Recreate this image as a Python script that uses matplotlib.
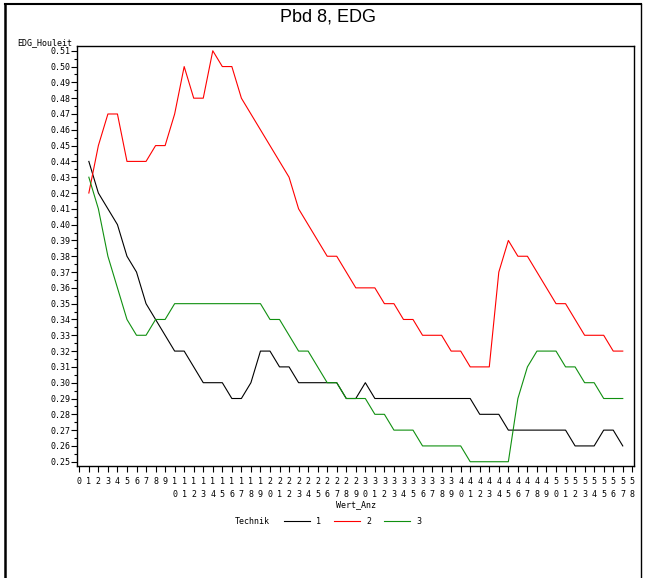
import numpy as np
import matplotlib
matplotlib.use("Agg")
import matplotlib.pyplot as plt
from matplotlib.lines import Line2D


wert_anz = list(range(1, 58))

technik_1 = [0.44, 0.42, 0.41, 0.40, 0.38, 0.37, 0.35, 0.34, 0.33, 0.32,
             0.32, 0.31, 0.30, 0.30, 0.30, 0.29, 0.29, 0.30, 0.32, 0.32,
             0.31, 0.31, 0.30, 0.30, 0.30, 0.30, 0.30, 0.29, 0.29, 0.30,
             0.29, 0.29, 0.29, 0.29, 0.29, 0.29, 0.29, 0.29, 0.29, 0.29,
             0.29, 0.28, 0.28, 0.28, 0.27, 0.27, 0.27, 0.27, 0.27, 0.27,
             0.27, 0.26, 0.26, 0.26, 0.27, 0.27, 0.26]

technik_2 = [0.42, 0.45, 0.47, 0.47, 0.44, 0.44, 0.44, 0.45, 0.45, 0.47,
             0.50, 0.48, 0.48, 0.51, 0.50, 0.50, 0.48, 0.47, 0.46, 0.45,
             0.44, 0.43, 0.41, 0.40, 0.39, 0.38, 0.38, 0.37, 0.36, 0.36,
             0.36, 0.35, 0.35, 0.34, 0.34, 0.33, 0.33, 0.33, 0.32, 0.32,
             0.31, 0.31, 0.31, 0.37, 0.39, 0.38, 0.38, 0.37, 0.36, 0.35,
             0.35, 0.34, 0.33, 0.33, 0.33, 0.32, 0.32]

technik_3 = [0.43, 0.41, 0.38, 0.36, 0.34, 0.33, 0.33, 0.34, 0.34, 0.35,
             0.35, 0.35, 0.35, 0.35, 0.35, 0.35, 0.35, 0.35, 0.35, 0.34,
             0.34, 0.33, 0.32, 0.32, 0.31, 0.30, 0.30, 0.29, 0.29, 0.29,
             0.28, 0.28, 0.27, 0.27, 0.27, 0.26, 0.26, 0.26, 0.26, 0.26,
             0.25, 0.25, 0.25, 0.25, 0.25, 0.29, 0.31, 0.32, 0.32, 0.32,
             0.31, 0.31, 0.30, 0.30, 0.29, 0.29, 0.29]

series = [("1", technik_1, "#000000"),
          ("2", technik_2, "#ff0000"),
          ("3", technik_3, "#109010")]

x_ticks = list(range(0, 59))
y_ticks = [round(0.25 + 0.01 * k, 2) for k in range(27)]

W, H = 653, 578
fig = plt.figure(figsize=(W / 100, H / 100), dpi=100)
ax = fig.add_axes([77.3 / W, 1 - 466 / H, (634.3 - 77.3) / W, (466 - 45.7) / H])

for name, vals, col in series:
    ax.plot(wert_anz, vals, color=col, lw=0.8)

mono = "DejaVu Sans Mono"
ax.set_xlim(-0.21, 58.21)
ax.set_ylim(0.2473, 0.5132)
ax.set_xticks(x_ticks)
ax.set_xticklabels([str(v) if v < 10 else "\n".join(str(v)) for v in x_ticks],
                   fontfamily=mono, fontsize=6, linespacing=1.5, va="top")
ax.set_yticks(y_ticks)
ax.set_yticklabels(["%.2f" % v for v in y_ticks], fontfamily=mono, fontsize=6)
ax.set_yticks(np.arange(0.255, 0.51, 0.01), minor=True)
ax.tick_params(axis="both", which="major", direction="out", length=4, width=0.8, pad=1.2)
ax.tick_params(axis="x", which="major", pad=4)
ax.tick_params(axis="y", which="minor", direction="out", length=2, width=0.8)
for sp in ax.spines.values():
    sp.set_linewidth(1.0)

fig.text(72 / W, 1 - 43 / H, "EDG_Houleit", fontfamily=mono, fontsize=6,
         ha="right", va="center")
fig.text(356 / W, 1 - 505 / H, "Wert_Anz", fontfamily=mono, fontsize=6,
         ha="center", va="center")
fig.text(327.5 / W, 1 - 17 / H, "Pbd 8, EDG", fontfamily="Liberation Sans",
         fontsize=13, ha="center", va="center")

# legend
fig.text(235 / W, 1 - 521 / H, "Technik", fontfamily=mono, fontsize=6,
         ha="left", va="center")
for k, (name, vals, col) in enumerate(series):
    x0 = 284.3 + 50 * k
    fig.add_artist(Line2D([x0 / W, (x0 + 26) / W], [1 - 521 / H] * 2,
                          color=col, lw=0.8))
    fig.text((x0 + 32) / W, 1 - 521 / H, name, fontfamily=mono, fontsize=6,
             ha="left", va="center")

# outer frame
fig.add_artist(Line2D([5 / W, 641 / W], [1 - 4 / H] * 2, color="black", lw=1.5))
fig.add_artist(Line2D([5 / W] * 2, [0, 1 - 4 / H], color="black", lw=1.8))
fig.add_artist(Line2D([641 / W] * 2, [0, 1 - 4 / H], color="black", lw=1.0))

fig.savefig("out.png", dpi=100)
